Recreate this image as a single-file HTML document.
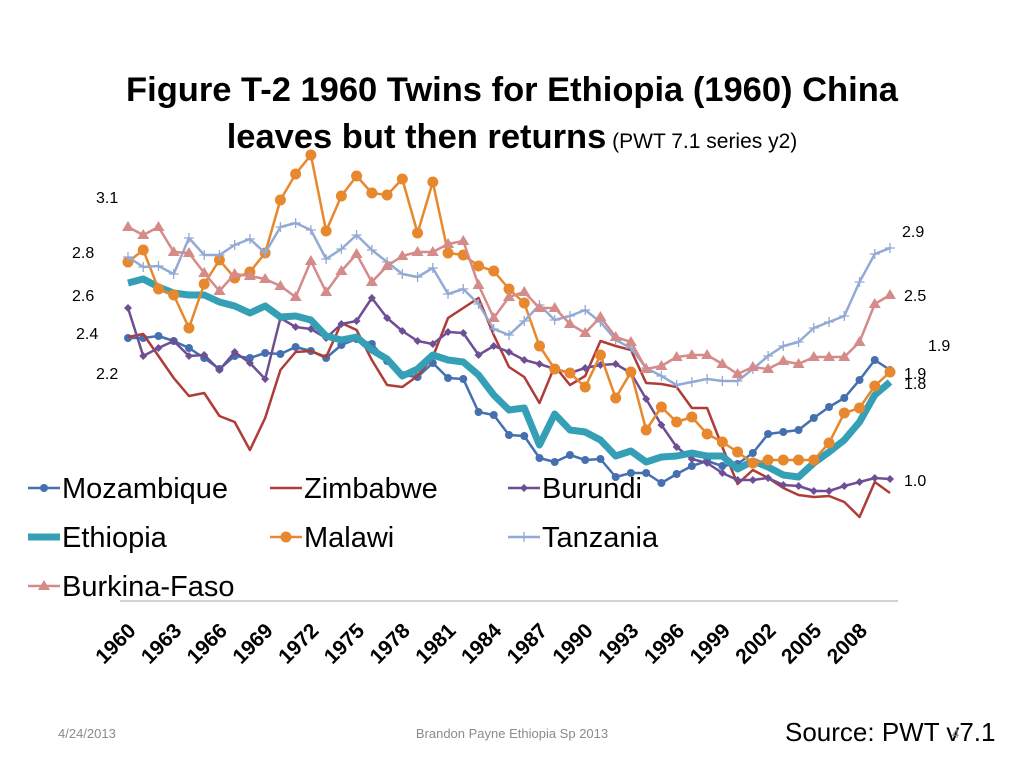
<!DOCTYPE html>
<html><head><meta charset="utf-8"><style>
body{margin:0;background:#fff;width:1024px;height:768px;overflow:hidden;font-family:"Liberation Sans",sans-serif}
svg{position:absolute;left:0;top:0}
</style></head><body>
<svg id="c" width="1024" height="768">
<text x="512" y="101" text-anchor="middle" font-size="34.5" font-weight="bold">Figure T-2 1960 Twins for Ethiopia (1960) China</text>
<text x="512" y="148" text-anchor="middle"><tspan font-size="34.5" font-weight="bold">leaves but then returns</tspan><tspan font-size="21"> (PWT 7.1 series y2)</tspan></text>
<line x1="120" y1="601" x2="898" y2="601" stroke="#a6a6a6" stroke-width="1"/>
<g id="series"></g>
<g id="xt"></g>
<g font-size="16">
<text x="96" y="203">3.1</text><text x="72" y="258">2.8</text><text x="72" y="301">2.6</text><text x="76" y="339">2.4</text><text x="96" y="379">2.2</text>
<text x="902" y="237">2.9</text><text x="904" y="301">2.5</text><text x="928" y="351">1.9</text><text x="904" y="379">1.9</text><text x="904" y="389">1.8</text><text x="904" y="486">1.0</text>
</g>
<g id="legend"></g>
<text x="58" y="738" font-size="13" fill="#8b8b8b">4/24/2013</text>
<text x="512" y="738" font-size="13" fill="#8b8b8b" text-anchor="middle">Brandon Payne Ethiopia Sp 2013</text>
<text x="785" y="741" font-size="26">Source: PWT v7.1</text>
<text x="952" y="738" font-size="13" fill="#8b8b8b">4</text>
</svg>
<script>
const years=[];for(let y=1960;y<=2010;y++)years.push(y);
const tickLabels=["1960","1963","1966","1969","1972","1975","1978","1981","1984","1987","1990","1993","1996","1999","2002","2005","2008"];
const mozambique=[2.375,2.375,2.385,2.36,2.325,2.275,2.22,2.285,2.275,2.30,2.295,2.33,2.31,2.275,2.34,2.37,2.345,2.26,2.19,2.18,2.25,2.175,2.17,2.005,1.99,1.89,1.885,1.775,1.755,1.79,1.765,1.77,1.68,1.70,1.70,1.65,1.695,1.735,1.76,1.735,1.745,1.80,1.895,1.905,1.915,1.975,2.03,2.075,2.165,2.265,2.215];
const zimbabwe=[2.38,2.395,2.285,2.175,2.085,2.10,1.985,1.955,1.815,1.975,2.215,2.305,2.31,2.28,2.45,2.415,2.265,2.14,2.13,2.185,2.28,2.475,2.525,2.575,2.39,2.23,2.18,2.05,2.235,2.14,2.185,2.36,2.335,2.315,2.15,2.145,2.13,2.025,2.025,1.83,1.645,1.715,1.675,1.625,1.59,1.58,1.585,1.555,1.48,1.655,1.60];
const burundi=[2.525,2.285,2.325,2.36,2.285,2.29,2.215,2.305,2.25,2.17,2.475,2.43,2.42,2.375,2.445,2.46,2.575,2.475,2.41,2.36,2.345,2.405,2.40,2.29,2.335,2.305,2.265,2.245,2.22,2.20,2.225,2.24,2.245,2.20,2.07,1.94,1.83,1.77,1.75,1.70,1.665,1.665,1.675,1.64,1.635,1.61,1.61,1.635,1.655,1.675,1.67];
const ethiopia=[2.65,2.67,2.63,2.60,2.59,2.59,2.555,2.535,2.50,2.535,2.48,2.485,2.465,2.385,2.365,2.38,2.315,2.27,2.185,2.22,2.29,2.265,2.255,2.19,2.09,2.015,2.025,1.84,1.995,1.915,1.905,1.865,1.785,1.81,1.755,1.78,1.785,1.80,1.785,1.785,1.72,1.76,1.73,1.69,1.68,1.75,1.805,1.865,1.955,2.09,2.155];
const malawi=[2.755,2.815,2.62,2.59,2.425,2.645,2.765,2.675,2.705,2.80,3.065,3.195,3.29,2.91,3.085,3.185,3.10,3.09,3.17,2.90,3.155,2.80,2.79,2.735,2.71,2.62,2.55,2.335,2.22,2.20,2.13,2.29,2.075,2.205,1.915,2.03,1.955,1.98,1.895,1.855,1.805,1.75,1.765,1.765,1.765,1.765,1.85,2.00,2.025,2.135,2.205];
const tanzania=[2.78,2.73,2.735,2.695,2.875,2.79,2.79,2.84,2.87,2.80,2.93,2.95,2.915,2.77,2.82,2.89,2.815,2.755,2.695,2.68,2.725,2.595,2.62,2.545,2.42,2.39,2.46,2.54,2.465,2.485,2.515,2.455,2.365,2.325,2.225,2.185,2.14,2.155,2.17,2.16,2.16,2.22,2.285,2.335,2.355,2.425,2.455,2.485,2.655,2.795,2.825];
const burkina=[2.93,2.89,2.93,2.805,2.80,2.70,2.61,2.695,2.685,2.67,2.635,2.58,2.76,2.605,2.71,2.795,2.655,2.735,2.785,2.805,2.805,2.845,2.86,2.64,2.475,2.58,2.605,2.525,2.525,2.445,2.40,2.48,2.38,2.355,2.22,2.235,2.28,2.29,2.29,2.245,2.195,2.23,2.22,2.26,2.245,2.28,2.28,2.28,2.355,2.545,2.59];
const NS="http://www.w3.org/2000/svg";
const xs=yr=>128+(yr-1960)*15.24;
const ys=v=>813-200*v;
function mk(t,a,p){const e=document.createElementNS(NS,t);for(const k in a)e.setAttribute(k,a[k]);p.appendChild(e);return e;}
function marker(kind,x,y,col,p){
 if(kind==="circle")return mk("circle",{cx:x,cy:y,r:4,fill:col},p);
 if(kind==="bigcircle")return mk("circle",{cx:x,cy:y,r:5.5,fill:col},p);
 if(kind==="diamond")return mk("polygon",{points:`${x},${y-4} ${x+4},${y} ${x},${y+4} ${x-4},${y}`,fill:col},p);
 if(kind==="triangle")return mk("polygon",{points:`${x},${y-6} ${x+6},${y+4} ${x-6},${y+4}`,fill:col},p);
 if(kind==="plus")return mk("path",{d:`M${x-5},${y}H${x+5}M${x},${y-5}V${y+5}`,stroke:col,"stroke-width":1.3},p);
 return null;}
const series=[
 {n:"Mozambique",d:mozambique,c:"#4470b0",w:2.5,m:"circle"},
 {n:"Zimbabwe",d:zimbabwe,c:"#b03c38",w:2.5,m:null},
 {n:"Burundi",d:burundi,c:"#6f4f94",w:2.5,m:"diamond"},
 {n:"Ethiopia",d:ethiopia,c:"#35a0b5",w:7,m:null},
 {n:"Malawi",d:malawi,c:"#e8882e",w:2.5,m:"bigcircle"},
 {n:"Tanzania",d:tanzania,c:"#93aad4",w:2.5,m:"plus"},
 {n:"Burkina-Faso",d:burkina,c:"#d48b8a",w:2.5,m:"triangle"}];
const sg=document.getElementById("series");
series.forEach(s=>{
 const g=mk("g",{},sg);
 
 
 const pts=s.d.map((v,i)=>xs(years[i])+","+ys(v)).join(" ");
 const pl=mk("polyline",{points:pts,fill:"none",stroke:s.c,"stroke-width":s.w,"stroke-linejoin":"round"},g);
 
 
 if(s.m)s.d.forEach((v,i)=>{const e=marker(s.m,xs(years[i]),ys(v),s.c,g);
  
  });
});
const xt=document.getElementById("xt");
tickLabels.forEach(l=>{const x=xs(+l)+9,y=632;
 const t=mk("text",{x:x,y:y,"text-anchor":"end","font-size":"21","font-weight":"bold",transform:`rotate(-45 ${x} ${y})`},xt);
 t.textContent=l;
 
 });
const lg=document.getElementById("legend");
const pos=[[28,488],[270,488],[508,488],[28,537],[270,537],[508,537],[28,586]];
series.forEach((s,i)=>{const [x,y]=pos[i];
 const g=mk("g",{},lg);
 
 
 mk("line",{x1:x,y1:y,x2:x+32,y2:y,stroke:s.c,"stroke-width":s.w},g);
 if(s.m)marker(s.m,x+16,y,s.c,g);
 const t=mk("text",{x:x+34,y:y+10,"font-size":"29"},g);t.textContent=s.n;});
</script>
</body></html>
